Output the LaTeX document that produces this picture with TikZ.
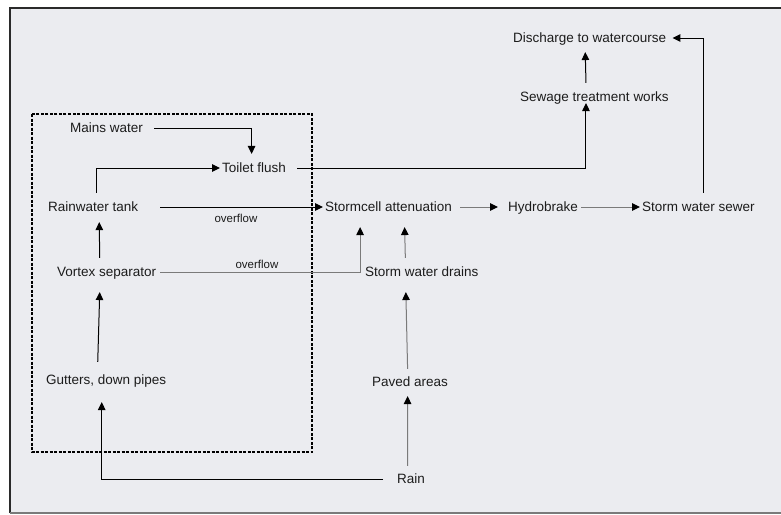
\documentclass[tikz,border=0pt]{standalone}
\usepackage{fontspec}
\setmainfont{Liberation Sans}
\usetikzlibrary{arrows.meta,calc,positioning}
\definecolor{swpanel}{HTML}{EBECF0}
\definecolor{swink}{HTML}{1C1C1C}
\definecolor{swgrey}{HTML}{7A7A7A}
\definecolor{swframe}{HTML}{2A2A2A}
\tikzset{
  stage/.style={anchor=west,inner sep=0pt,text height=9.7pt,text depth=0pt,text=swink,
    font=\fontsize{13.5}{16}\selectfont},
  oflabel/.style={inner sep=0pt,text height=8.3pt,text depth=0pt,text=swink,
    font=\fontsize{11.5}{14}\selectfont},
  flow/.style={-{Triangle[length=8pt,width=7.5pt,black]},draw=black,line width=1pt},
  flowg/.style={flow,draw=swgrey},
  harvest/.style={draw=black,line width=1.1pt,dash pattern=on 3pt off 1.5pt},
}

\begin{document}
\begin{tikzpicture}[x=1pt,y=-1pt]
  \path[use as bounding box] (0,0) rectangle (781,514);
  \fill[white] (0,0) rectangle (781,514);
  \fill[swpanel] (10,8) rectangle (781,513);
  \draw[swframe,line width=1.6pt] (10,513) -- (10,8) -- (781,8);
  \draw[swgrey,line width=1.2pt] (10,513) -- (781,513);
  % rainwater harvesting boundary
  \draw[harvest] (32,114) rectangle (312,452);
  % stages
  \node[stage] (discharge) at (513,38) {Discharge to watercourse};
  \node[stage] (sewage) at (520,97) {Sewage treatment works};
  \node[stage] (mains) at (70,128) {Mains water};
  \node[stage] (toilet) at (222,168) {Toilet flush};
  \node[stage] (tank) at (48,207) {Rainwater tank};
  \node[stage] (stormcell) at (325,207) {Stormcell attenuation};
  \node[stage] (hydro) at (508,207) {Hydrobrake};
  \node[stage] (sewer) at (642,207) {Storm water sewer};
  \node[stage] (vortex) at (57,272) {Vortex separator};
  \node[stage] (drains) at (365,272) {Storm water drains};
  \node[stage] (gutters) at (46,380) {Gutters, down pipes};
  \node[stage] (paved) at (372,382) {Paved areas};
  \node[stage] (rain) at (397,479) {Rain};
  \node[oflabel] (ofa) at (236,218) {overflow};
  \node[oflabel] (ofb) at (257,264) {overflow};
  % flows
  \draw[flow] ([xshift=5.5pt,yshift=9pt]sewer.north) |- ([xshift=6pt]discharge.east);
  \draw[flow] ([xshift=-8.5pt,yshift=9pt]sewage.north) -- ([xshift=-4.5pt,yshift=-9pt]discharge.south);
  \draw[flow] ([xshift=11pt]toilet.east) -| ([xshift=-8.5pt,yshift=-1pt]sewage.south);
  \draw[flow] ([xshift=11pt]mains.east) -| ([xshift=-2.5pt,yshift=9pt]toilet.north);
  \draw[flow] ([xshift=3pt,yshift=9pt]tank.north) |- ([xshift=-2pt]toilet.west);
  \draw[flow] ([xshift=22pt]tank.east) -- ([xshift=-2pt]stormcell.west);
  \draw[flowg] ([xshift=4pt]vortex.east) -| ([xshift=-28.5pt,yshift=-15pt]stormcell.south);
  \draw[flowg] ([xshift=-16.5pt,yshift=9pt]drains.north) -- ([xshift=16pt,yshift=-15pt]stormcell.south);
  \draw[flowg] ([xshift=8pt]stormcell.east) -- ([xshift=-10pt]hydro.west);
  \draw[flowg] ([xshift=3pt]hydro.east) -- ([xshift=-2pt]sewer.west);
  \draw[flow] ([xshift=-7pt,yshift=9pt]vortex.north) -- ([xshift=6pt,yshift=-10pt]tank.south);
  \draw[flow] ([xshift=-8.5pt,yshift=13pt]gutters.north) -- ([xshift=-7pt,yshift=-15pt]vortex.south);
  \draw[flow] ([xshift=-14pt]rain.west) -| ([xshift=-4.5pt,yshift=-17pt]gutters.south);
  \draw[flowg] ([xshift=-3.5pt,yshift=8pt]rain.north) -- ([xshift=-2.5pt,yshift=-9pt]paved.south);
  \draw[flowg] ([xshift=-2.5pt,yshift=8pt]paved.north) -- ([xshift=-16pt,yshift=-15pt]drains.south);
\end{tikzpicture}
\end{document}
